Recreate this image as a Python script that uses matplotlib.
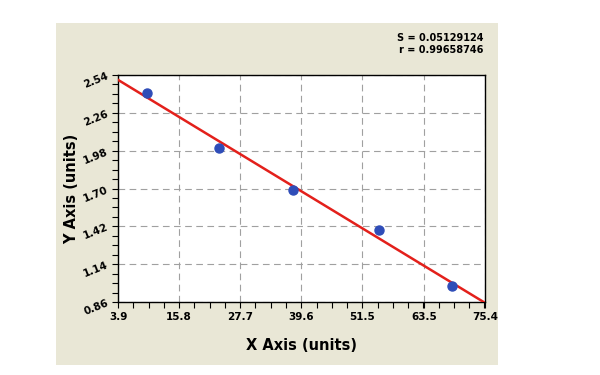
import matplotlib
matplotlib.use("Agg")
import matplotlib.pyplot as plt
from matplotlib.patches import Rectangle
from matplotlib.ticker import AutoMinorLocator
import numpy as np

# data
x_vals = [9.6, 23.6, 38.0, 54.8, 69.0]
y_vals = [2.41, 2.00, 1.69, 1.39, 0.98]
x_ticks = [3.9, 15.8, 27.7, 39.6, 51.5, 63.5, 75.4]
y_ticks = [0.86, 1.14, 1.42, 1.70, 1.98, 2.26, 2.54]
x_labels = ["3.9", "15.8", "27.7", "39.6", "51.5", "63.5", "75.4"]
y_labels = ["0.86", "1.14", "1.42", "1.70", "1.98", "2.26", "2.54"]
stats_text = "S = 0.05129124\nr = 0.99658746"

fig = plt.figure(figsize=(6, 3.75), dpi=100, facecolor="white")
fig.patches.append(Rectangle((56 / 600, 1 - 365 / 375), 442 / 600, 342 / 375,
                             transform=fig.transFigure, facecolor="#E9E7D6",
                             edgecolor="none", zorder=-5))

ax = fig.add_axes([118 / 600, 1 - 302 / 375, 367 / 600, 227 / 375])
ax.set_zorder(2)
ax.set_facecolor("white")

# regression line through the points
slope, intercept = np.polyfit(x_vals, y_vals, 1)
xl = np.array([x_ticks[0], x_ticks[-1]])
ax.plot(xl, slope * xl + intercept, color="#E3201B", lw=1.8, zorder=3)
ax.plot(x_vals, y_vals, "o", color="#2F4DB8", markersize=6.5, zorder=4)

ax.set_xlim(x_ticks[0], x_ticks[-1])
ax.set_ylim(y_ticks[0], y_ticks[-1])
ax.set_xticks(x_ticks)
ax.set_xticklabels(x_labels, fontsize=7.5, fontweight="bold")
ax.set_yticks(y_ticks)
ax.set_yticklabels(y_labels, fontsize=7.5, fontweight="bold", rotation=22)
ax.xaxis.set_minor_locator(AutoMinorLocator(4))
ax.yaxis.set_minor_locator(AutoMinorLocator(4))
ax.tick_params(which="both", direction="out", length=4, width=0.8, color="black")
ax.tick_params(axis="x", pad=3)
ax.tick_params(axis="y", pad=2)
ax.grid(True, which="major", linestyle=(0, (6, 4)), color="#A0A0A0", lw=0.8)
for s in ax.spines.values():
    s.set_color("black")
    s.set_linewidth(1.0)

ax.set_xlabel("X Axis (units)", fontsize=10.5, fontweight="bold", labelpad=12)
ax.set_ylabel("Y Axis (units)", fontsize=10.5, fontweight="bold", labelpad=2)

fig.text(483 / 600, 1 - 44 / 375, stats_text, ha="right", va="center",
         fontsize=7, fontweight="bold", linespacing=1.3)

fig.savefig("out.png", dpi=100, facecolor="white")
